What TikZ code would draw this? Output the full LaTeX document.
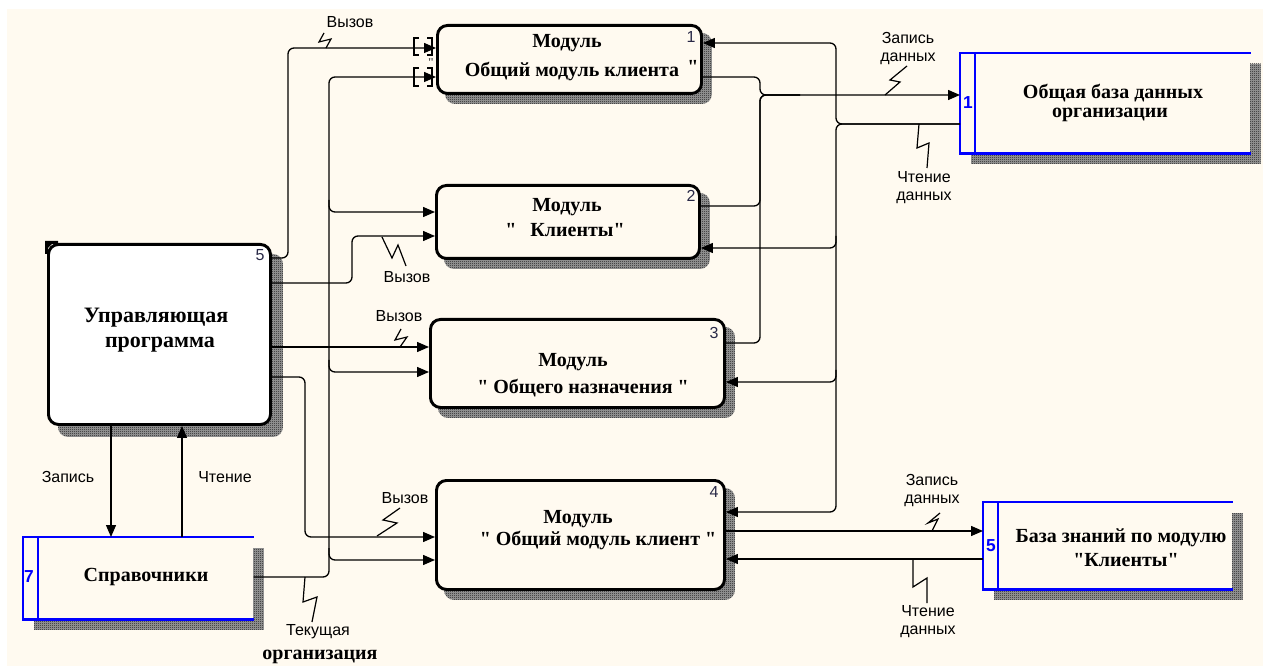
\documentclass[tikz,border=0pt]{standalone}
\usepackage{fontspec}
\setmainfont{Liberation Serif}
\newfontfamily\tnr{Liberation Serif}
\newfontfamily\arialf{Liberation Sans}
\usetikzlibrary{arrows.meta,patterns,calc}
\pgfdeclarelayer{bglayer}
\pgfdeclarelayer{shadowlayer}
\pgfsetlayers{bglayer,shadowlayer,main}
\definecolor{bgc}{RGB}{255,250,240}
\definecolor{dsblue}{RGB}{0,0,255}
\definecolor{numc}{RGB}{40,40,70}
\pgfdeclarepatternformonly{checker}{\pgfpointorigin}{\pgfpoint{1.5pt}{1.5pt}}{\pgfpoint{1.5pt}{1.5pt}}{%
  \pgfpathrectangle{\pgfpointorigin}{\pgfpoint{0.75pt}{0.75pt}}%
  \pgfpathrectangle{\pgfpoint{0.75pt}{0.75pt}}{\pgfpoint{0.75pt}{0.75pt}}%
  \pgfusepath{fill}}
\newdimen\px \px=0.75pt
\begin{document}
\begin{tikzpicture}[x=0.75pt,y=-0.75pt,
  module/.style={draw=black, line width=2.2pt, rounded corners=7.5pt, fill=bgc, anchor=north west, inner sep=0pt},
  ctrlbox/.style={module, fill=white},
  store/.style={anchor=north west, inner sep=0pt, fill=bgc},
  storeline/.style={draw=dsblue, line width=2.2pt},
  shade/.style={preaction={fill=black!38}, pattern=checker, pattern color=black!90},
  bt/.style={font=\tnr\bfseries\fontsize{15}{17}\selectfont, inner sep=0pt},
  bbt/.style={font=\tnr\bfseries\fontsize{16.5}{19}\selectfont, inner sep=0pt},
  lbl/.style={font=\arialf\fontsize{12}{13.5}\selectfont, inner sep=0pt, align=center},
  num/.style={font=\arialf\fontsize{12}{13}\selectfont, inner sep=0pt, text=numc},
  snum/.style={font=\arialf\bfseries\fontsize{13}{14}\selectfont, inner sep=0pt, text=dsblue},
  conn/.style={draw=black, line width=1pt, rounded corners=4.5pt},
  arr/.style={conn, -{Triangle[length=9pt,width=7.5pt]}},
  zig/.style={draw=black, line width=0.9pt},
  brk/.style={draw=black, line width=0.8pt}
]
\useasboundingbox (0,0) rectangle (1263,666);
\begin{pgfonlayer}{bglayer}
  \fill[white] (0,0) rectangle (1263,666);
  \fill[bgc] (7,9) rectangle (1263,666);
\end{pgfonlayer}

% activity boxes
\node[module, minimum width=264\px, minimum height=68\px] (m1) at (436,24) {};
\node[module, minimum width=263\px, minimum height=73\px] (m2) at (435,184) {};
\node[module, minimum width=294\px, minimum height=88\px] (m3) at (429,318) {};
\node[module, minimum width=288\px, minimum height=109\px] (m4) at (435,479) {};
\node[ctrlbox, minimum width=222\px, minimum height=180\px] (ctrl) at (47,243) {};

% data stores
\node[store, minimum width=290\px, minimum height=100\px] (db1) at (960,53) {};
\node[store, minimum width=249\px, minimum height=87\px] (db2) at (983,502) {};
\node[store, minimum width=230\px, minimum height=82\px] (db3) at (23,537) {};

\begin{pgfonlayer}{shadowlayer}
  \foreach \n in {m1,m2,m3,m4}{
    \fill[shade, rounded corners=7.5pt] ($(\n.north west)+(9,9)$) rectangle ($(\n.south east)+(9,9)$);
  }
  \fill[shade, rounded corners=7.5pt] ($(ctrl.north west)+(11,11)$) rectangle ($(ctrl.south east)+(11,11)$);
  \foreach \n in {db1,db2,db3}{
    \fill[shade] ($(\n.north west)+(11,11)$) rectangle ($(\n.south east)+(10,10)$);
  }
\end{pgfonlayer}

\foreach \n in {db1,db2,db3}{
  \draw[storeline] (\n.north east) -- (\n.north west) -- (\n.south west) -- (\n.south east);
  \draw[storeline] ($(\n.north west)+(15,0)$) -- ($(\n.south west)+(15,0)$);
}

% corner mark of control box
\fill[black] (45,254) -- (45,241) -- (58,241) -- (58,244) -- (52,244) -- (48,248) -- (48,254) -- cycle;

% texts in boxes
\node[bt] (m1a) at (567,43) {Модуль};
\node[bt] (m1b) at (572,72) {Общий модуль клиента};
\node[bt] (m1q) at (693,67) {"};
\node[bt, font=\tnr\bfseries\fontsize{9}{10}\selectfont, text=black!70] (m1p) at (431,63) {"};
\node[bt] (m2a) at (567,207) {Модуль};
\node[bt] (m2b) at (565,230) {"\hspace{0.7em}Клиенты"};
\node[bt] (m3a) at (573,362) {Модуль};
\node[bt] (m3b) at (583,388) {" Общего назначения "};
\node[bt] (m4a) at (578,519) {Модуль};
\node[bt] (m4b) at (598,540) {" Общий модуль клиент "};
\node[bbt] (ca) at (156,318) {Управляющая};
\node[bbt] (cb) at (160,345) {программа};
\node[bt] (d1a) at (1113,93) {Общая база данных};
\node[bt] (d1b) at (1110,115) {организации};
\node[bt] (d2a) at (1121,538) {База знаний по модулю};
\node[bt] (d2b) at (1126,560) {"Клиенты"};
\node[bt] (d3a) at (146,577) {Справочники};

% numbers
\node[num] (n1) at (691,37) {1};
\node[num] (n2) at (691,196) {2};
\node[num] (n3) at (714,333) {3};
\node[num] (n4) at (714,492) {4};
\node[num] (n5) at (260,255) {5};
\node[snum] (s1) at (968,103) {1};
\node[snum] (s5) at (991,546) {5};
\node[snum] (s7) at (29,577) {7};

% tunnel brackets at box 1
\draw[brk] (419,38) -- (414,38) -- (414,55) -- (419,55);
\draw[brk] (427,38) -- (432,38) -- (432,55) -- (427,55);
\draw[brk] (419,68) -- (414,68) -- (414,86) -- (419,86);
\draw[brk] (427,68) -- (432,68) -- (432,86) -- (427,86);

% calls from control program
\draw[arr] (ctrl.east |- 0,258) -- (288,258) -- (288,48) -- (m1.west |- 0,48);
\draw[arr] (ctrl.east |- 0,283) -- (352,283) -- (352,236) -- (m2.west |- 0,236);
\draw[arr] (ctrl.east |- 0,347) -- (m3.west |- 0,347);
\draw[arr] (ctrl.east |- 0,377) -- (305,377) -- (305,537) -- (m4.west |- 0,537);

% current organisation from reference store
\draw[arr] (db3.east |- 0,577) -- (329,577) -- (329,77) -- (m1.west |- 0,77);
\draw[arr] (329,200) -- (329,212) -- (m2.west |- 0,212);
\draw[arr] (329,360) -- (329,372) -- (m3.west |- 0,372);
\draw[arr] (329,548) -- (329,560) -- (m4.west |- 0,560);

% control <-> reference store
\draw[arr] (ctrl.south -| 111,0) -- (db3.north -| 111,0);
\draw[arr] (db3.north -| 182,0) -- (ctrl.south -| 182,0);

% writes to common database
\draw[arr] (m1.east |- 0,77) -- (760,77) -- (760,95) -- (db1.west |- 0,95);
\draw[conn] (m2.east |- 0,206) -- (760,206) -- (760,95) -- (800,95);
\draw[conn] (m3.east |- 0,343) -- (760,343) -- (760,95) -- (800,95);

% reads from common database
\draw[arr] (db1.west |- 0,124) -- (836,124) -- (836,43) -- (m1.east |- 0,43);
\draw[arr] (db1.west |- 0,124) -- (836,124) -- (836,512) -- (m4.east |- 0,512);
\draw[arr] (836,236) -- (836,248) -- (m2.east |- 0,248);
\draw[arr] (836,370) -- (836,382) -- (m3.east |- 0,382);

% module 4 <-> knowledge base
\draw[arr] (m4.east |- 0,531) -- (db2.west |- 0,531);
\draw[arr] (db2.west |- 0,559) -- (m4.east |- 0,559);

% squiggles
\draw[zig] (326,48) -- (331,39) -- (319,42) -- (324,33);
\draw[zig] (382,237) -- (392,258) -- (398,245) -- (406,266);
\draw[zig] (400,347) -- (407,337) -- (395,340) -- (401,329);
\draw[zig] (377,536) -- (397,523) -- (383,520) -- (400,508);
\draw[zig] (305,577) -- (303,602) -- (317,597) -- (312,622);
\draw[zig] (885,95) -- (900,82) -- (890,80) -- (907,66);
\draw[zig] (919,124) -- (917,148) -- (929,143) -- (927,168);
\draw[zig] (932,531) -- (938,519) -- (928,523) -- (940,513);
\draw[zig] (913,559) -- (913,587) -- (927,578) -- (927,603);

% labels
\node[lbl] (l1) at (350,22) {Вызов};
\node[lbl] (l2) at (407,277) {Вызов};
\node[lbl] (l3) at (399,316) {Вызов};
\node[lbl] (l4) at (405,498) {Вызов};
\node[lbl] (l5) at (908,49) {Запись\\данных};
\node[lbl] (l6) at (924,188) {Чтение\\данных};
\node[lbl] (l7) at (932,491) {Запись\\данных};
\node[lbl] (l8) at (928,622) {Чтение\\данных};
\node[lbl] (l9) at (68,477) {Запись};
\node[lbl] (l10) at (225,477) {Чтение};
\node[lbl] (l11) at (318,632) {Текущая};
\node[bt] (l12) at (320,657) {организация};
\end{tikzpicture}
\end{document}
